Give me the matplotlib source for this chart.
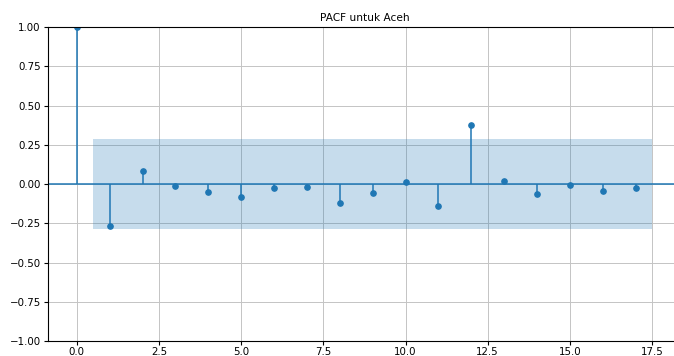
import matplotlib.pyplot as plt
import numpy as np

# partial autocorrelation per lag (lag 0 .. 17)
lags = np.arange(18)
pacf_vals = [1.0, -0.27, 0.083, -0.013, -0.05, -0.08, -0.023, -0.019, -0.119,
             -0.055, 0.013, -0.142, 0.376, 0.019, -0.062, -0.004, -0.045, -0.024]
conf = 0.285  # 95% band half-width

plt.rcParams['font.size'] = 7.4
plt.rcParams['xtick.major.size'] = 2.6
plt.rcParams['ytick.major.size'] = 2.6
plt.rcParams['xtick.major.pad'] = 2.0
plt.rcParams['ytick.major.pad'] = 2.6

fig = plt.figure(figsize=(6.74, 3.56), dpi=100)
ax = fig.add_axes([0.0712, 0.042, 0.939, 0.882])

ax.vlines(lags, 0, pacf_vals, color='C0', linewidth=1.1)
ax.plot(lags, pacf_vals, 'o', color='C0', markersize=3.8)
ax.axhline(0, color='C0', linewidth=1.1)

band_x = lags[1:].astype(float)
band_x[0] -= 0.5
band_x[-1] += 0.5
ax.fill_between(band_x, -conf, conf, color='C0', alpha=0.25, linewidth=0)

ax.set_ylim(-1, 1)
ax.set_xlim(-0.875, 18.375)
ax.set_yticks(np.arange(-1, 1.01, 0.25))
ax.set_xticks(np.arange(0, 17.6, 2.5))
ax.grid(True, color='#c4c4c4', linewidth=0.7)
ax.set_axisbelow(True)
ax.set_title('PACF untuk Aceh', fontsize=7.6, pad=4.5)

fig.savefig('out.png', dpi=100)
